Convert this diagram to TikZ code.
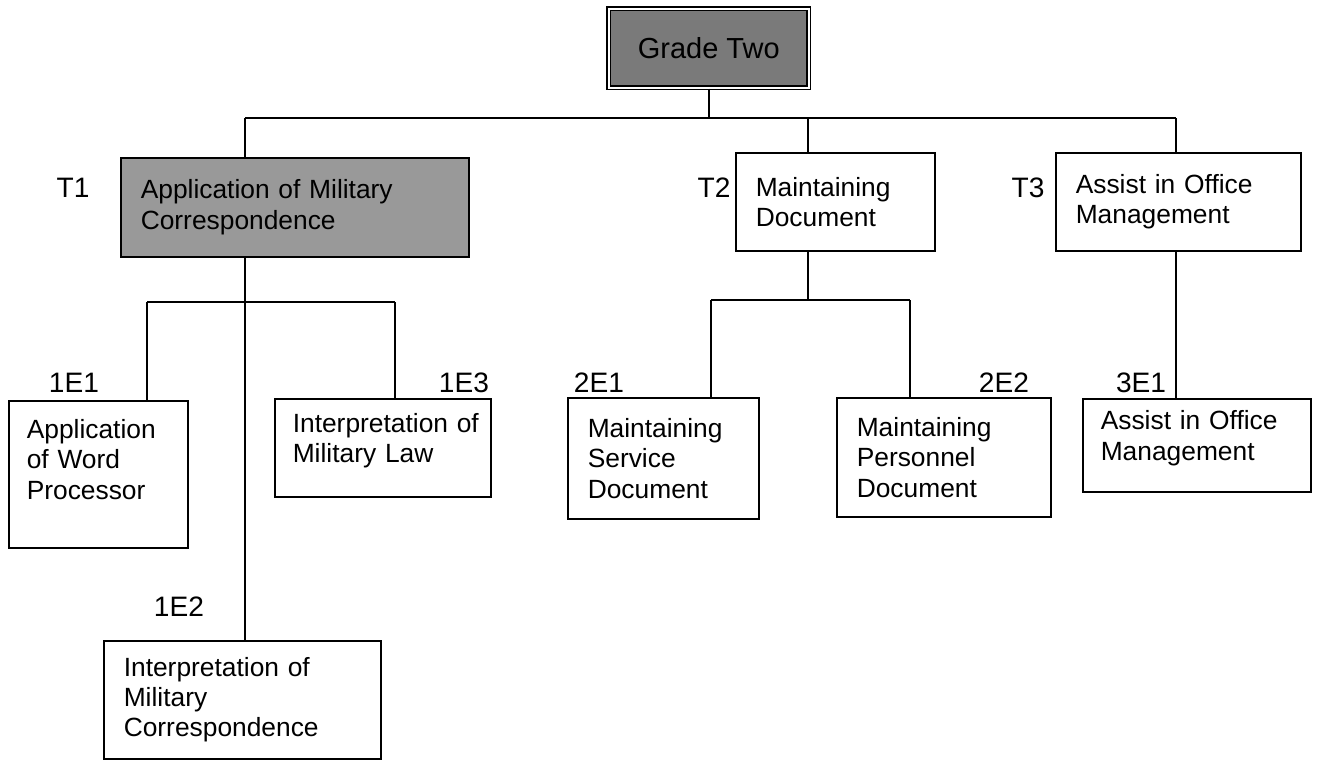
\documentclass[tikz,border=0pt]{standalone}
\usepackage{fontspec}
\setmainfont{Liberation Sans}
\begin{document}
\begin{tikzpicture}[x=0.02cm,y=-0.02cm,line width=0.9pt,
    box/.style={draw=black,anchor=north west,inner xsep=0.4cm,inner ysep=0pt,align=left,font=\fontsize{15}{17.3}\selectfont},
    lbl/.style={font=\fontsize{16}{18}\selectfont,inner sep=0pt}]
            \useasboundingbox (0,0) rectangle (1333,761);
            \node (top) at (608,8) [draw=black,double=white,double distance=1.2pt,fill=black!52,anchor=north west,minimum width=4cm,minimum height=1.58cm,font=\fontsize{16.5}{19}\selectfont] {Grade Two};
            \node (t1) at (120,157) [box,fill=black!40,text width=6.16cm,minimum height=1.98cm] {Application of Military\\Correspondence};
            \node (t2) at (735,152) [box,text width=3.18cm,minimum height=1.96cm] {Maintaining\\Document};
            \node (t3) at (1055,152) [box,text width=4.1cm,minimum height=1.96cm] {Assist in Office\\Management};
            \node (e11) at (8,400) [box,inner xsep=0.36cm,text width=2.86cm,minimum height=2.94cm] {Application\\of Word\\Processor\\~};
            \node (e12) at (103,640) [box,text width=4.74cm,minimum height=2.36cm] {Interpretation of\\Military\\Correspondence};
            \node (e13) at (274,398) [box,inner xsep=0.21cm,text width=3.9cm,minimum height=1.96cm] {\hspace*{0.15cm}Interpretation of\\\hspace*{0.15cm}Military Law\\[-6pt]~};
            \node (e21) at (567,397) [box,text width=3.02cm,minimum height=2.42cm] {Maintaining\\Service\\Document};
            \node (e22) at (836,397) [box,text width=3.48cm,minimum height=2.38cm] {Maintaining\\Personnel\\Document};
            \node (e31) at (1082,398) [box,inner xsep=0.36cm,text width=3.84cm,minimum height=1.86cm] {Assist in Office\\Management\\[-6pt]~};
            % codes
            \node (lt1) at (73,188) [lbl] {T1};
            \node (lt2) at (714,188) [lbl] {T2};
            \node (lt3) at (1028,188) [lbl] {T3};
            \node (l11) at (74,383) [lbl] {1E1};
            \node (l12) at (179,607) [lbl] {1E2};
            \node (l13) at (464,383) [lbl] {1E3};
            \node (l21) at (599,383) [lbl] {2E1};
            \node (l22) at (1004,383) [lbl] {2E2};
            \node (l31) at (1141,383) [lbl] {3E1};
            % first level
            \coordinate (j1) at (245,118);
            \coordinate (j2) at (808,118);
            \coordinate (j3) at (1176,118);
            \draw (top.south) -- (top.south |- j1);
            \draw (j1) -- (j3);
            \draw (j1) -- (j1 |- t1.north);
            \draw (j2) -- (j2 |- t2.north);
            \draw (j3) -- (j3 |- t3.north);
            % under T1
            \coordinate (k1) at (147,302);
            \coordinate (k3) at (395,302);
            \draw (j1 |- t1.south) -- (j1 |- e12.north);
            \draw (k1) -- (k3);
            \draw (k1) -- (k1 |- e11.north);
            \draw (k3) -- (k3 |- e13.north);
            % under T2
            \coordinate (m1) at (711,300);
            \coordinate (m2) at (910,300);
            \draw (j2 |- t2.south) -- (j2 |- m1);
            \draw (m1) -- (m2);
            \draw (m1) -- (m1 |- e21.north);
            \draw (m2) -- (m2 |- e22.north);
            % under T3
            \draw (j3 |- t3.south) -- (j3 |- e31.north);
        \end{tikzpicture}
\end{document}
